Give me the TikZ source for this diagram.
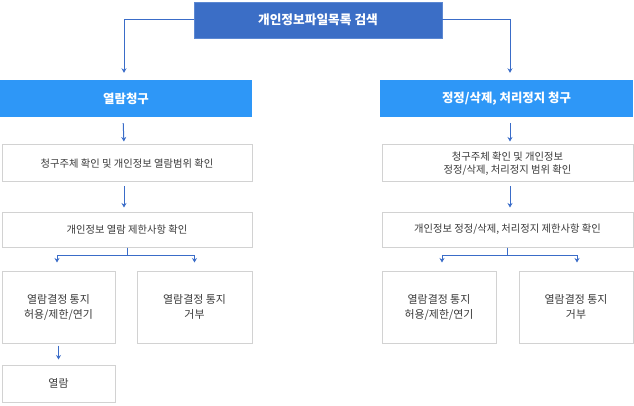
\documentclass[tikz,border=0pt]{standalone}
\usepackage{fontspec}
\setmainfont{Noto Sans CJK KR}
\usetikzlibrary{arrows.meta}
\definecolor{topblue}{HTML}{3B6EC6}
\definecolor{topedge}{HTML}{5C88D2}
\definecolor{headblue}{HTML}{2E97F7}
\definecolor{arrblue}{HTML}{3A6CC8}
\definecolor{boxedge}{HTML}{D2D2D2}
\definecolor{txtgray}{HTML}{3A3A3A}
\tikzset{
  topbox/.style={fill=topblue, draw=topedge, line width=0.8pt, text=white, font=\fontsize{12.7}{14}\selectfont\bfseries, inner sep=0pt},
  headbox/.style={fill=headblue, draw=none, text=white, font=\fontsize{12.4}{14}\selectfont\bfseries, inner sep=0pt},
  stepbox/.style={fill=white, draw=boxedge, line width=1pt, text=txtgray, font=\fontsize{10.3}{12.5}\selectfont, align=center, inner sep=0pt},
  resbox/.style={fill=white, draw=boxedge, line width=1pt, text=txtgray, font=\fontsize{10.9}{15}\selectfont, align=center, inner sep=0pt},
  arr/.style={draw=arrblue, line width=1pt, -{Stealth[length=4.5pt,width=5pt]}}
}
\begin{document}
\begin{tikzpicture}[x=1pt,y=-1pt]
\useasboundingbox (0,0) rectangle (634,406);
% top
\node[topbox, minimum width=248pt, minimum height=36pt] (top) at (318,20) {개인정보파일목록 검색};
% left column
\node[headbox, minimum width=252pt, minimum height=37pt] (hl) at (126,98.5) {열람청구};
\node[stepbox, minimum width=250pt, minimum height=37pt] (l2) at (127,163.5) {청구주체 확인 및 개인정보 열람범위 확인};
\node[stepbox, minimum width=250pt, minimum height=35pt] (l3) at (127,229.5) {개인정보 열람 제한사항 확인};
\node[resbox, minimum width=113pt, minimum height=72pt] (l4a) at (58.5,307) {열람결정 통지\\허용/제한/연기};
\node[resbox, minimum width=115pt, minimum height=72pt] (l4b) at (194.5,307) {열람결정 통지\\거부};
\node[resbox, minimum width=113pt, minimum height=37pt] (l5) at (58.5,383.5) {열람};
% right column
\node[headbox, minimum width=253pt, minimum height=37pt] (hr) at (506.5,98.5) {정정/삭제, 처리정지 청구};
\node[stepbox, minimum width=251pt, minimum height=37pt] (r2) at (507.5,163.5) {청구주체 확인 및 개인정보\\정정/삭제, 처리정지 범위 확인};
\node[stepbox, minimum width=251pt, minimum height=35pt] (r3) at (507.5,229.5) {개인정보 정정/삭제, 처리정지 제한사항 확인};
\node[resbox, minimum width=114pt, minimum height=72pt] (r4a) at (439,307) {열람결정 통지\\허용/제한/연기};
\node[resbox, minimum width=114pt, minimum height=72pt] (r4b) at (576,307) {열람결정 통지\\거부};
% connectors top
\draw[arr, shorten >=7pt] (top.west) -| ([xshift=-2pt]hl.north);
\draw[arr, shorten >=7pt] (top.east) -| ([xshift=3.5pt]hr.north);
% left arrows
\draw[arr, shorten <=6pt, shorten >=3pt] ([xshift=-3pt]hl.south) -- ([xshift=-3pt]l2.north);
\draw[arr, shorten <=4pt, shorten >=4pt] ([xshift=-3pt]l2.south) -- ([xshift=-3pt]l3.north);
\draw[arr, shorten >=8pt] (l3.south) -- ++(0,8) -| ([xshift=-1.5pt]l4a.north);
\draw[arr, shorten >=8pt] (l3.south) -- ++(0,8) -| (l4b.north);
\draw[arr, shorten <=2pt, shorten >=5pt] (l4a.south) -- (l5.north);
% right arrows
\draw[arr, shorten <=6pt, shorten >=3pt] ([xshift=3.5pt]hr.south) -- ([xshift=2.5pt]r2.north);
\draw[arr, shorten <=4pt, shorten >=4pt] ([xshift=2.5pt]r2.south) -- ([xshift=2.5pt]r3.north);
\draw[arr, shorten >=8pt] (r3.south) -- ++(0,8) -| ([xshift=3pt]r4a.north);
\draw[arr, shorten >=8pt] (r3.south) -- ++(0,8) -| ([xshift=1pt]r4b.north);
\end{tikzpicture}
\end{document}
